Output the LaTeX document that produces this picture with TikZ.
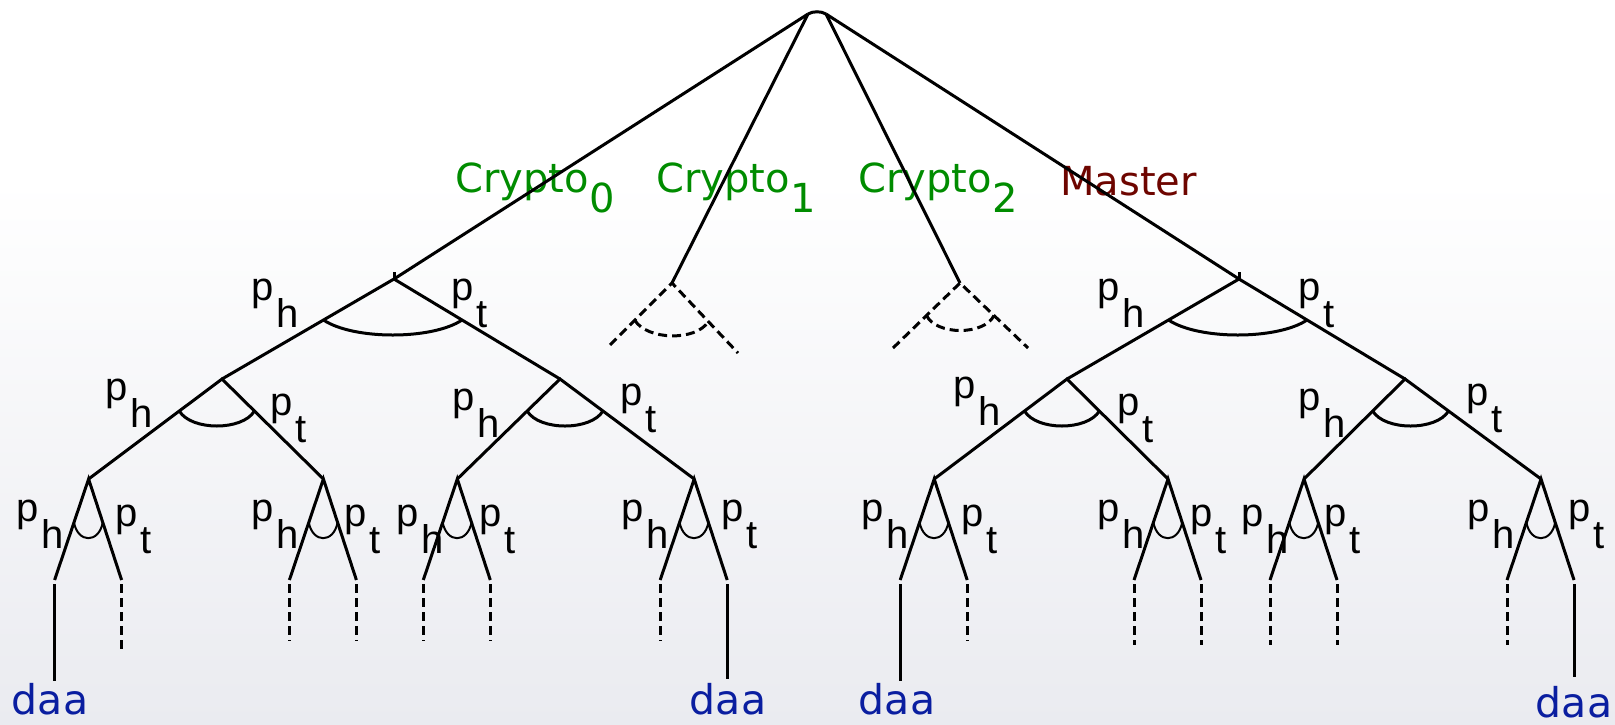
\documentclass[tikz,border=0pt]{standalone}
\usepackage{fontspec}
\setmainfont{DejaVu Sans}
\newfontfamily\pfont{Liberation Sans}
\usetikzlibrary{calc}
\definecolor{cgreen}{RGB}{0,140,0}
\definecolor{mred}{RGB}{110,5,0}
\definecolor{dblue}{RGB}{10,30,160}
\definecolor{bgbot}{RGB}{234,235,240}
\tikzset{
  edge/.style={line width=1.5pt},
  dedge/.style={line width=1.5pt, dash pattern=on 4.5pt off 2.5pt},
  plab/.style={font=\pfont\fontsize{20}{20}\selectfont, inner sep=0pt, anchor=north west},
  clab/.style={font=\fontsize{20}{20}\selectfont, inner sep=0pt, anchor=base west, text=cgreen},
  mlab/.style={font=\fontsize{20}{20}\selectfont, inner sep=0pt, anchor=base west, text=mred},
  dlab/.style={font=\fontsize{20.5}{20.5}\selectfont, inner sep=0pt, anchor=base, text=dblue},
}
\newcommand{\ph}{p\kern1.5pt\raisebox{-13.5pt}{h}}
\newcommand{\pt}{p\kern1.5pt\raisebox{-13.5pt}{t}}
\begin{document}
\begin{tikzpicture}[x=0.5pt,y=-0.5pt]
\useasboundingbox (0pt,0pt) rectangle (807.5pt,-362pt);
\fill[white] (0pt,0pt) rectangle (807.5pt,-362pt);
\shade[top color=white, bottom color=bgbot] (0pt,-90pt) rectangle (807.5pt,-362pt);

% ---- coordinates ----
\coordinate (RL) at (808,14);
\coordinate (RR) at (826,14);
\coordinate (A) at (394,279);
\coordinate (C1) at (672,283);
\coordinate (C2) at (960,283);
\coordinate (M) at (1239,279);
\coordinate (AL) at (222,379);
\coordinate (AR) at (560,379);
\coordinate (ML) at (1067,379);
\coordinate (MR) at (1405,379);
\coordinate (n1) at (88.6,479);
\coordinate (n2) at (323.4,479);
\coordinate (n3) at (457.3,479);
\coordinate (n4) at (694.2,479);
\coordinate (n5) at (934.2,479);
\coordinate (n6) at (1168,479);
\coordinate (n7) at (1304,479);
\coordinate (n8) at (1541,479);
\foreach \n in {1,...,8}{
  \coordinate (n\n a) at ($(n\n)+(-34,101)$);
  \coordinate (n\n b) at ($(n\n)+(33,101)$);
  \coordinate (v\n a) at ($(n\n)+(-34,105)$);
  \coordinate (v\n b) at ($(n\n)+(33,105)$);
}
% dashed crypto subtrees
\coordinate (C1l) at (610,345);
\coordinate (C1r) at (738,353);
\coordinate (C2l) at (893,348);
\coordinate (C2r) at (1028,348);

% ---- labels ----
\node[clab] (lc0) at (455,192) {Crypto\raisebox{-10pt}{0}};
\node[clab] (lc1) at (656,192) {Crypto\raisebox{-10pt}{1}};
\node[clab] (lc2) at (858,192) {Crypto\raisebox{-10pt}{2}};
\node[mlab] (lm) at (1060,195) {Master};

\node[plab] (a1) at (251,279) {\ph};
\node[plab] (a2) at (451,279) {\pt};
\node[plab] (m1) at (1097,279) {\ph};
\node[plab] (m2) at (1298,279) {\pt};

\node[plab] (b1) at (105,379) {\ph};
\node[plab] (b2) at (270,394) {\pt};
\node[plab] (b3) at (452,389) {\ph};
\node[plab] (b4) at (620,384) {\pt};
\node[plab] (b5) at (953,377) {\ph};
\node[plab] (b6) at (1117,394) {\pt};
\node[plab] (b7) at (1298,389) {\ph};
\node[plab] (b8) at (1466,384) {\pt};

\node[plab] (c1h) at (16,500) {\ph};
\node[plab] (c1t) at (115,505) {\pt};
\node[plab] (c2h) at (251,500) {\ph};
\node[plab] (c2t) at (344,505) {\pt};
\node[plab] (c3h) at (396,505) {\ph};
\node[plab] (c3t) at (479,505) {\pt};
\node[plab] (c4h) at (621,500) {\ph};
\node[plab] (c4t) at (721,500) {\pt};
\node[plab] (c5h) at (861,500) {\ph};
\node[plab] (c5t) at (961,505) {\pt};
\node[plab] (c6h) at (1097,500) {\ph};
\node[plab] (c6t) at (1190,505) {\pt};
\node[plab] (c7h) at (1241,505) {\ph};
\node[plab] (c7t) at (1324,505) {\pt};
\node[plab] (c8h) at (1467,500) {\ph};
\node[plab] (c8t) at (1568,500) {\pt};

\node[dlab] (d1) at (50,714) {daa};
\node[dlab] (d2) at (728,714) {daa};
\node[dlab] (d3) at (897,714) {daa};
\node[dlab] (d4) at (1574,717) {daa};

% ---- tree ----
\draw[edge] (RL) .. controls ($(RL)+(5,-3)$) and ($(RR)+(-5,-3)$) .. (RR);
\draw[edge] (RL) -- (A);
\draw[edge] (RL) -- (C1);
\draw[edge] (RR) -- (C2);
\draw[edge] (RR) -- (M);
\draw[edge] (A) -- ++(0,-7);
\draw[edge] (M) -- ++(0,-7);

\draw[edge] (AL) -- (A) -- (AR);
\draw[edge] (ML) -- (M) -- (MR);
\draw[edge] (n1) -- (AL) -- (n2);
\draw[edge] (n3) -- (AR) -- (n4);
\draw[edge] (n5) -- (ML) -- (n6);
\draw[edge] (n7) -- (MR) -- (n8);
\foreach \n in {1,...,8}{
  \draw[edge] (n\n a) -- (n\n) -- (n\n b);
  \draw[line width=1pt] ($(n\n)!0.43!(n\n a)$) .. controls +(4,21) and +(-4,21) .. ($(n\n)!0.43!(n\n b)$);
}
% arcs level 1 and 2
\draw[edge] ($(A)!0.41!(AL)$) .. controls +(30,20) and +(-30,20) .. ($(A)!0.41!(AR)$);
\draw[edge] ($(M)!0.41!(ML)$) .. controls +(30,20) and +(-30,20) .. ($(M)!0.41!(MR)$);
\draw[edge] ($(AL)!0.32!(n1)$) .. controls +(12,20) and +(-12,20) .. ($(AL)!0.32!(n2)$);
\draw[edge] ($(AR)!0.32!(n3)$) .. controls +(12,20) and +(-12,20) .. ($(AR)!0.32!(n4)$);
\draw[edge] ($(ML)!0.32!(n5)$) .. controls +(12,20) and +(-12,20) .. ($(ML)!0.32!(n6)$);
\draw[edge] ($(MR)!0.32!(n7)$) .. controls +(12,20) and +(-12,20) .. ($(MR)!0.32!(n8)$);

% dashed crypto subtrees
\draw[dedge] (C1l) -- (C1) -- (C1r);
\draw[dedge] ($(C1)!0.6!(C1l)$) .. controls +(12,20) and +(-12,20) .. ($(C1)!0.55!(C1r)$);
\draw[dedge] (C2l) -- (C2) -- (C2r);
\draw[dedge] ($(C2)!0.5!(C2l)$) .. controls +(10,20) and +(-10,20) .. ($(C2)!0.5!(C2r)$);

% vertical continuations
\draw[edge] (v1a) -- ++(0,97);
\draw[dedge] (v1b) -- ++(0,65);
\draw[dedge] (v2a) -- ++(0,57);
\draw[dedge] (v2b) -- ++(0,57);
\draw[dedge] (v3a) -- ++(0,57);
\draw[dedge] (v3b) -- ++(0,57);
\draw[dedge] (v4a) -- ++(0,57);
\draw[edge] (v4b) -- ++(0,95);
\draw[edge] (v5a) -- ++(0,97);
\draw[dedge] (v5b) -- ++(0,57);
\draw[dedge] (v6a) -- ++(0,61);
\draw[dedge] (v6b) -- ++(0,61);
\draw[dedge] (v7a) -- ++(0,61);
\draw[dedge] (v7b) -- ++(0,61);
\draw[dedge] (v8a) -- ++(0,61);
\draw[edge] (v8b) -- ++(0,93);
\end{tikzpicture}
\end{document}
